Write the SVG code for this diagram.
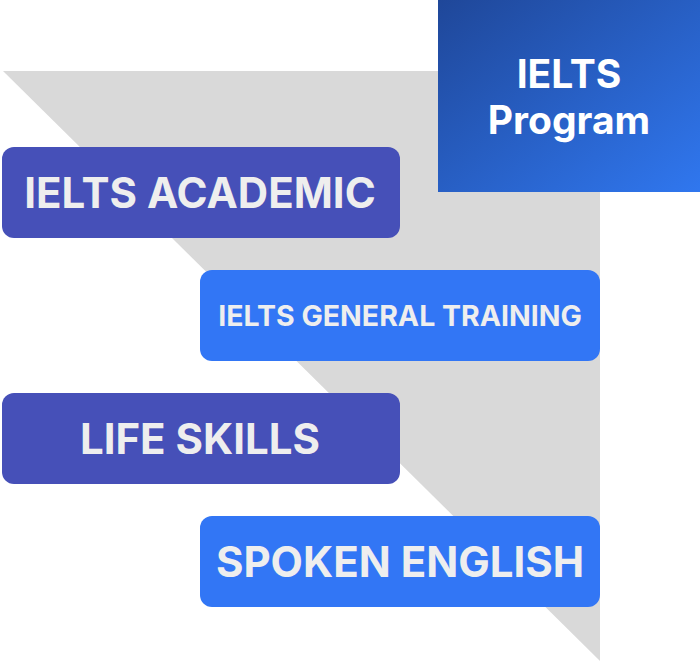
<svg xmlns="http://www.w3.org/2000/svg" width="700" height="663" viewBox="0 0 700 663">
<style>
.lbl{font-family:Inter,"Liberation Sans",sans-serif;font-weight:700;fill:#eeeeee;text-anchor:middle}
.head{font-family:Inter,"Liberation Sans",sans-serif;font-weight:700;fill:#ffffff;text-anchor:middle;font-size:39px}
.dark{fill:#4650b8}
.light{fill:#3276f5}
</style>
<defs>
<linearGradient id="g" x1="0" y1="0" x2="1" y2="1">
<stop offset="0" stop-color="#1f4799"/>
<stop offset="1" stop-color="#3077ef"/>
</linearGradient>
</defs>
<rect width="700" height="663" fill="#ffffff"/>
<g id="funnel">
<polygon points="3,71 600,71 600,661" fill="#d9d9d9"/>
</g>
<g id="ielts-program">
<rect x="438" y="0" width="262" height="192" fill="url(#g)"/>
<text class="head" x="569" y="88">IELTS</text>
<text class="head" x="569" y="134">Program</text>
</g>
<g id="ielts-academic">
<rect class="dark" x="2" y="147" width="398" height="91" rx="12"/>
<text class="lbl" x="200" y="208" font-size="42">IELTS ACADEMIC</text>
</g>
<g id="ielts-general-training">
<rect class="light" x="200" y="270" width="400" height="91" rx="12"/>
<text class="lbl" x="400" y="326" font-size="28.5">IELTS GENERAL TRAINING</text>
</g>
<g id="life-skills">
<rect class="dark" x="2" y="393" width="398" height="91" rx="12"/>
<text class="lbl" x="200" y="454" font-size="42">LIFE SKILLS</text>
</g>
<g id="spoken-english">
<rect class="light" x="200" y="516" width="400" height="91" rx="12"/>
<text class="lbl" x="400" y="577" font-size="42">SPOKEN ENGLISH</text>
</g>
<g id="connectors"></g>
</svg>
